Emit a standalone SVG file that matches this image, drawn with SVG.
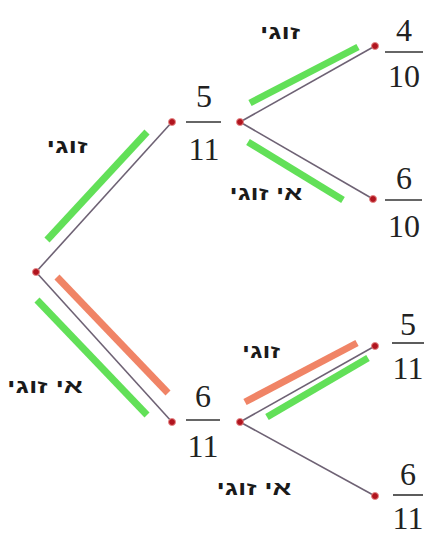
<svg xmlns="http://www.w3.org/2000/svg" width="426" height="538" viewBox="0 0 426 538">
<style>
.edge{stroke:#6e6274;stroke-width:1.6;fill:none}
.hg{stroke:#62e058;stroke-width:7;stroke-linecap:butt}
.ho{stroke:#f08466;stroke-width:7;stroke-linecap:butt}
.dot{fill:#b0141e;stroke:#e88a8a;stroke-width:1}
.num{font-family:"Liberation Serif","Times New Roman",serif;font-size:32px;fill:#222;text-anchor:middle}
.bar{stroke:#333;stroke-width:1.6}
.lbl{font-family:"Liberation Sans","DejaVu Sans",sans-serif;font-weight:bold;font-size:19px;fill:#1a1a1a;text-anchor:middle}
</style>
<rect width="426" height="538" fill="#fff"/>
<g id="highlights">
<line class="hg" x1="47" y1="240" x2="147" y2="132"/>
<line class="ho" x1="57" y1="277" x2="168" y2="393"/>
<line class="hg" x1="37" y1="300" x2="147" y2="415"/>
<line class="hg" x1="250" y1="103" x2="358" y2="47"/>
<line class="hg" x1="248" y1="142" x2="343" y2="200"/>
<line class="ho" x1="245" y1="402" x2="357" y2="343"/>
<line class="hg" x1="267" y1="417" x2="368" y2="358"/>
</g>
<g id="connectors">
<line class="edge" x1="36" y1="272" x2="172" y2="122"/>
<line class="edge" x1="36" y1="272" x2="172" y2="422"/>
<line class="edge" x1="240" y1="122" x2="375" y2="46"/>
<line class="edge" x1="240" y1="122" x2="373" y2="199"/>
<line class="edge" x1="240" y1="422" x2="375" y2="346"/>
<line class="edge" x1="240" y1="422" x2="375" y2="496"/>
</g>
<g id="root"><circle class="dot" cx="36" cy="272" r="3.5"/></g>
<g id="n-upper">
<circle class="dot" cx="172" cy="122" r="3.5"/>
<text class="num" x="204" y="107">5</text>
<line class="bar" x1="186" y1="122" x2="221" y2="122"/>
<text class="num" x="204" y="160">11</text>
<circle class="dot" cx="240" cy="122" r="3.5"/>
</g>
<g id="n-lower">
<circle class="dot" cx="172" cy="422" r="3.5"/>
<text class="num" x="203" y="407">6</text>
<line class="bar" x1="186" y1="420" x2="220" y2="420"/>
<text class="num" x="203" y="457">11</text>
<circle class="dot" cx="240" cy="422" r="3.5"/>
</g>
<g id="n-uu">
<circle class="dot" cx="375" cy="46" r="3.5"/>
<text class="num" x="404" y="41">4</text>
<line class="bar" x1="385" y1="52" x2="423" y2="52"/>
<text class="num" x="404" y="87">10</text>
</g>
<g id="n-ul">
<circle class="dot" cx="373" cy="199" r="3.5"/>
<text class="num" x="404" y="189">6</text>
<line class="bar" x1="385" y1="200" x2="422" y2="200"/>
<text class="num" x="404" y="237">10</text>
</g>
<g id="n-lu">
<circle class="dot" cx="375" cy="346" r="3.5"/>
<text class="num" x="408" y="335">5</text>
<line class="bar" x1="392" y1="343" x2="424" y2="343"/>
<text class="num" x="408" y="379">11</text>
</g>
<g id="n-ll">
<circle class="dot" cx="375" cy="496" r="3.5"/>
<text class="num" x="408" y="485">6</text>
<line class="bar" x1="393" y1="495" x2="423" y2="495"/>
<text class="num" x="408" y="529">11</text>
</g>
<g id="labels">
<text class="lbl" x="67" y="153" direction="rtl" textLength="41" lengthAdjust="spacingAndGlyphs">זוגי</text>
<text class="lbl" x="45" y="393" direction="rtl" textLength="76" lengthAdjust="spacingAndGlyphs">אי זוגי</text>
<text class="lbl" x="280" y="39" direction="rtl" textLength="40" lengthAdjust="spacingAndGlyphs">זוגי</text>
<text class="lbl" x="266" y="200" direction="rtl" textLength="73" lengthAdjust="spacingAndGlyphs">אי זוגי</text>
<text class="lbl" x="261" y="358" direction="rtl" textLength="38" lengthAdjust="spacingAndGlyphs">זוגי</text>
<text class="lbl" x="254" y="495" direction="rtl" textLength="75" lengthAdjust="spacingAndGlyphs">אי זוגי</text>
</g>
</svg>
